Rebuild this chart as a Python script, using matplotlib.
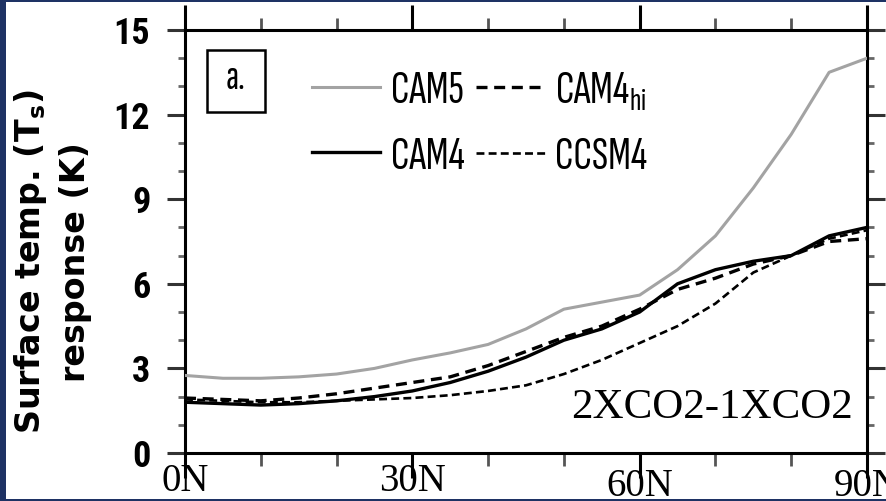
import matplotlib
matplotlib.use("Agg")
import matplotlib.pyplot as plt
from matplotlib import font_manager as fm
from matplotlib.patches import Rectangle
from matplotlib.ticker import MultipleLocator, FixedLocator

# ---------------- data ----------------
lat = [0, 5, 10, 15, 20, 25, 30, 35, 40, 45, 50, 55, 60, 65, 70, 75, 80, 85, 90]
cam5 = [2.75, 2.65, 2.65, 2.7, 2.8, 3.0, 3.3, 3.55, 3.85, 4.4, 5.1, 5.35, 5.6, 6.5, 7.7, 9.4, 11.3, 13.5, 14.0]
cam4 = [1.8, 1.75, 1.7, 1.75, 1.85, 2.0, 2.2, 2.5, 2.9, 3.4, 4.0, 4.4, 5.0, 6.0, 6.5, 6.8, 7.0, 7.7, 8.0]
cam4hi = [1.95, 1.9, 1.85, 1.95, 2.1, 2.3, 2.5, 2.7, 3.1, 3.6, 4.1, 4.5, 5.1, 5.8, 6.2, 6.7, 7.0, 7.5, 7.6]
ccsm4 = [1.9, 1.85, 1.8, 1.8, 1.85, 1.9, 1.95, 2.05, 2.2, 2.4, 2.8, 3.3, 3.9, 4.5, 5.3, 6.4, 7.0, 7.6, 7.9]

xticks = [0, 30, 60, 90]
xticklabels = ["0N", "30N", "60N", "90N"]
yticks = [0, 3, 6, 9, 12, 15]
legend_labels = ["CAM5", "CAM4", r"CAM4$_{\mathregular{hi}}$", "CCSM4"]
panel_label = "a."
scenario = "2XCO2-1XCO2"
ylabel = "Surface temp. (T$_\\mathbf{s}$)\nresponse (K)"

# ---------------- fonts ----------------
names = {f.name for f in fm.fontManager.ttflist}


def pick(cands, default="DejaVu Sans"):
    return next((n for n in cands if n in names), default)


leg_fam = pick(["Sofia Sans Extra Condensed", "Barlow Condensed", "Roboto Condensed",
                "Liberation Sans Narrow"])
leg_size = 34 if leg_fam == "Sofia Sans Extra Condensed" else 26
tick_fam = pick(["Roboto Condensed", "Barlow Condensed", "Liberation Sans Narrow"])
serif_fam = "Liberation Serif"

W, H = 886, 501
fig = plt.figure(figsize=(W / 100, H / 100), dpi=100, facecolor="#1e3264")
fig.add_artist(Rectangle((6 / W, 2 / H), 880 / W, 497 / H, transform=fig.transFigure,
                         facecolor="white", edgecolor="none", zorder=-10))

ax = fig.add_axes([185 / W, 1 - 453 / H, 682 / W, 423 / H])
ax.set_facecolor("white")

ax.plot(lat, cam5, color="#a3a3a3", lw=2.2, label=legend_labels[0], zorder=3)
ax.plot(lat, cam4, color="black", lw=2.4, label=legend_labels[1], zorder=4)
ax.plot(lat, cam4hi, color="black", lw=2.4, ls=(0, (3.3, 2.0)), label=legend_labels[2], zorder=4)
ax.plot(lat, ccsm4, color="black", lw=1.9, ls=(0, (3.0, 1.6)), label=legend_labels[3], zorder=4)

ax.set_xlim(0, 90)
ax.set_ylim(0, 15)

for s in ax.spines.values():
    s.set_linewidth(2.2)
    s.set_color("black")

ax.xaxis.set_major_locator(FixedLocator(xticks))
ax.xaxis.set_minor_locator(MultipleLocator(10))
ax.yaxis.set_major_locator(FixedLocator(yticks))
ax.yaxis.set_minor_locator(MultipleLocator(1))
ax.tick_params(which="both", direction="out", top=True, right=True, labeltop=False, labelright=False)
ax.tick_params(axis="x", which="major", length=18, width=2.2, color="black", pad=-10.5)
ax.tick_params(axis="x", which="minor", length=9, width=2.0, color="#555555")
ax.tick_params(axis="y", which="major", length=13, width=2.2, color="#333333", pad=12)
ax.tick_params(axis="y", which="minor", length=5, width=2.0, color="#666666")

ax.set_xticks(xticks)
ax.set_xticklabels(xticklabels, fontfamily=serif_fam, fontsize=28)
ax.set_yticks(yticks)
ax.set_yticklabels([str(v) for v in yticks], fontfamily=tick_fam, fontweight="bold", fontsize=26)
for i, t in enumerate(ax.xaxis.get_major_ticks()):
    if i >= 2:
        t.set_pad(-7)

# y label
fig.text(52 / W, 1 - 262 / H, ylabel, rotation=90, ha="center", va="center",
         fontsize=24, fontweight="bold", family="DejaVu Sans", linespacing=1.35,
         multialignment="center")

# panel box
ax.add_patch(Rectangle((0.032, 0.806), 0.085, 0.147, transform=ax.transAxes,
                       facecolor="white", edgecolor="black", lw=1.8, zorder=5))
ax.text(0.0745, 0.885, panel_label, transform=ax.transAxes, ha="center", va="center",
        fontsize=30, family=leg_fam, zorder=6)

# legend
plt.rcParams["mathtext.fontset"] = "custom"
plt.rcParams["mathtext.rm"] = leg_fam
leg = ax.legend(ncol=2, loc="upper left", bbox_to_anchor=(0.186, 0.905), frameon=False,
                prop={"family": leg_fam, "size": leg_size}, handlelength=1.45,
                handletextpad=0.22, columnspacing=0.25, labelspacing=0.5,
                borderpad=0, borderaxespad=0)

ax.text(0.979, 0.083, scenario, transform=ax.transAxes, ha="right", va="baseline",
        fontsize=31, family=serif_fam, zorder=6)

fig.savefig("out.png", dpi=100, facecolor=fig.get_facecolor())
